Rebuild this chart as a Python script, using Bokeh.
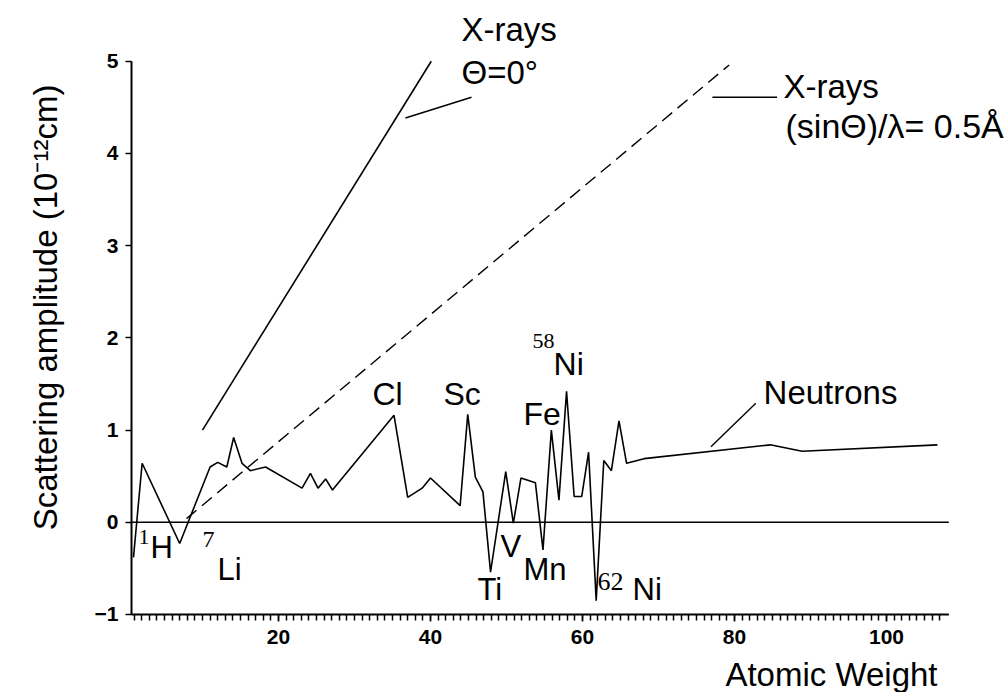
import math
from bokeh.plotting import figure
from bokeh.models import Range1d, FixedTicker, Label
from bokeh.embed import file_html
from bokeh.resources import INLINE

# ---------------- data ----------------
neutron_weight = [0.92, 2.06, 7.0, 11.0, 12.0, 13.2, 14.1, 15.2, 16.3, 18.3,
                  23.1, 24.2, 25.2, 26.2, 27.1, 35.2, 37.0, 38.9, 40.0, 43.9,
                  44.9, 45.9, 46.9, 47.9, 49.9, 50.9, 51.9, 53.8, 54.8, 55.9,
                  56.9, 57.9, 58.9, 59.9, 60.8, 61.8, 62.8, 63.8, 64.8, 65.8,
                  68.1, 84.7, 88.9, 106.7]
neutron_amp = [-0.38, 0.64, -0.23, 0.60, 0.65, 0.60, 0.92, 0.64, 0.56, 0.60,
               0.37, 0.53, 0.37, 0.47, 0.35, 1.16, 0.27, 0.37, 0.48, 0.18,
               1.17, 0.49, 0.33, -0.54, 0.55, -0.01, 0.48, 0.43, -0.30, 1.00,
               0.24, 1.42, 0.28, 0.28, 0.76, -0.85, 0.67, 0.56, 1.10, 0.64,
               0.69, 0.84, 0.77, 0.84]

xray_theta0_weight = [10.0, 40.1]
xray_theta0_amp = [1.0, 5.0]

xray_half_weight = [7.9, 79.3]
xray_half_amp = [0.04, 4.96]

# leader lines from the curves to their labels
leader_x0 = [36.7, 77.1, 76.9]
leader_y0 = [4.385, 4.61, 0.82]
leader_x1 = [45.4, 85.6, 82.8]
leader_y1 = [4.61, 4.61, 1.29]

x_major_ticks = [20, 40, 60, 80, 100]
x_minor_ticks = list(range(1, 108))
y_major_ticks = [-1, 0, 1, 2, 3, 4, 5]

x_axis_span = [0.66, 108.2]
y_axis_span = [-1, 5]

x_title = "Atomic Weight"
y_title = "Scattering amplitude (10\u207b\u00b9\u00b2cm)"

# ---------------- figure ----------------
SANS = "Liberation Sans"
SERIF = "Liberation Serif"

# frame fills the whole canvas; axes are pinned inside it
p = figure(width=1008, height=692, output_backend="svg", toolbar_location=None,
           x_range=Range1d(-16.577, 116.05), y_range=Range1d(-1.846, 5.659),
           min_border_left=0, min_border_right=0, min_border_top=0,
           min_border_bottom=0)
p.outline_line_color = None
p.xgrid.visible = False
p.ygrid.visible = False
p.background_fill_color = "white"
p.border_fill_color = "white"

# axes
xa = p.xaxis[0]
xa.fixed_location = y_axis_span[0]
xa.ticker = FixedTicker(ticks=x_major_ticks, minor_ticks=x_minor_ticks)
xa.axis_line_color = None
xa.major_tick_in = 0
xa.major_tick_out = 7
xa.minor_tick_in = 0
xa.minor_tick_out = 6
xa.major_tick_line_width = 1.5
xa.minor_tick_line_width = 1.5
xa.major_label_text_font = SANS
xa.major_label_text_font_style = "bold"
xa.major_label_text_font_size = "21px"
xa.major_label_standoff = 9
xa.major_label_text_color = "black"

ya = p.yaxis[0]
ya.fixed_location = x_axis_span[0]
ya.ticker = FixedTicker(ticks=y_major_ticks, minor_ticks=[])
ya.axis_line_color = None
ya.major_tick_in = 0
ya.major_tick_out = 6
ya.minor_tick_in = 0
ya.minor_tick_out = 0
ya.major_tick_line_width = 1.5
ya.major_label_text_font = SANS
ya.major_label_text_font_style = "bold"
ya.major_label_text_font_size = "21px"
ya.major_label_standoff = 7
ya.major_label_text_color = "black"

# axis lines (only over the plotted span) and the zero line
p.segment(x0=[x_axis_span[0], x_axis_span[0], x_axis_span[0]],
          y0=[y_axis_span[0], y_axis_span[0], 0],
          x1=[x_axis_span[1], x_axis_span[0], x_axis_span[1]],
          y1=[y_axis_span[0], y_axis_span[1], 0],
          line_color="black", line_width=[2, 2, 1.5])

# curves
p.line(neutron_weight, neutron_amp, line_color="black", line_width=1.6)
p.line(xray_theta0_weight, xray_theta0_amp, line_color="black", line_width=1.6)
p.line(xray_half_weight, xray_half_amp, line_color="black", line_width=1.4,
       line_dash="13 7")
p.segment(x0=leader_x0, y0=leader_y0, x1=leader_x1, y1=leader_y1,
          line_color="black", line_width=1.4)

# ---------------- texts ----------------
BASE_SHIFT = 0.12  # lift alphabetic-baseline labels onto the reference baseline


def lab(text, x, y, size, font=SANS, align="left", angle=0.0, baseline="alphabetic"):
    if baseline == "alphabetic":
        y = y + BASE_SHIFT
    p.add_layout(Label(x=x, y=y, text=text, text_font=font,
                       text_font_size=f"{size}px", text_color="black",
                       text_align=align, text_baseline=baseline,
                       angle=angle))

# curve labels
lab("X-rays", 44.08, 5.226, 33)
lab("\u0398=0\u00b0", 44.08, 4.759, 33)
lab("X-rays", 86.45, 4.607, 33)
lab("(sin\u0398)/\u03bb= 0.5\u00c5", 86.71, 4.173, 34)
lab("Neutrons", 83.82, 1.287, 33)

# element labels
lab("Cl", 32.37, 1.267, 32)
lab("Sc", 41.71, 1.267, 32)
lab("Fe", 52.24, 1.05, 32)
lab("58", 53.42, 1.841, 22, font=SERIF)
lab("Ni", 56.19, 1.592, 32)
lab("1", 1.58, -0.284, 22, font=SERIF)
lab("H", 3.16, -0.393, 31)
lab("7", 10.0, -0.306, 24, font=SERIF)
lab("Li", 11.98, -0.631, 31)
lab("Ti", 46.19, -0.848, 31)
lab("V", 49.21, -0.382, 31)
lab("Mn", 52.24, -0.631, 31)
lab("62", 61.98, -0.761, 26, font=SERIF)
lab("Ni", 66.59, -0.848, 31)

# axis titles
lab(x_title, 106.71, -1.77, 33, align="right")
lab(y_title, -10.66, 2.33, 33, align="center", angle=math.pi / 2, baseline="middle")

open("out.html", "w").write(file_html(p, INLINE))
